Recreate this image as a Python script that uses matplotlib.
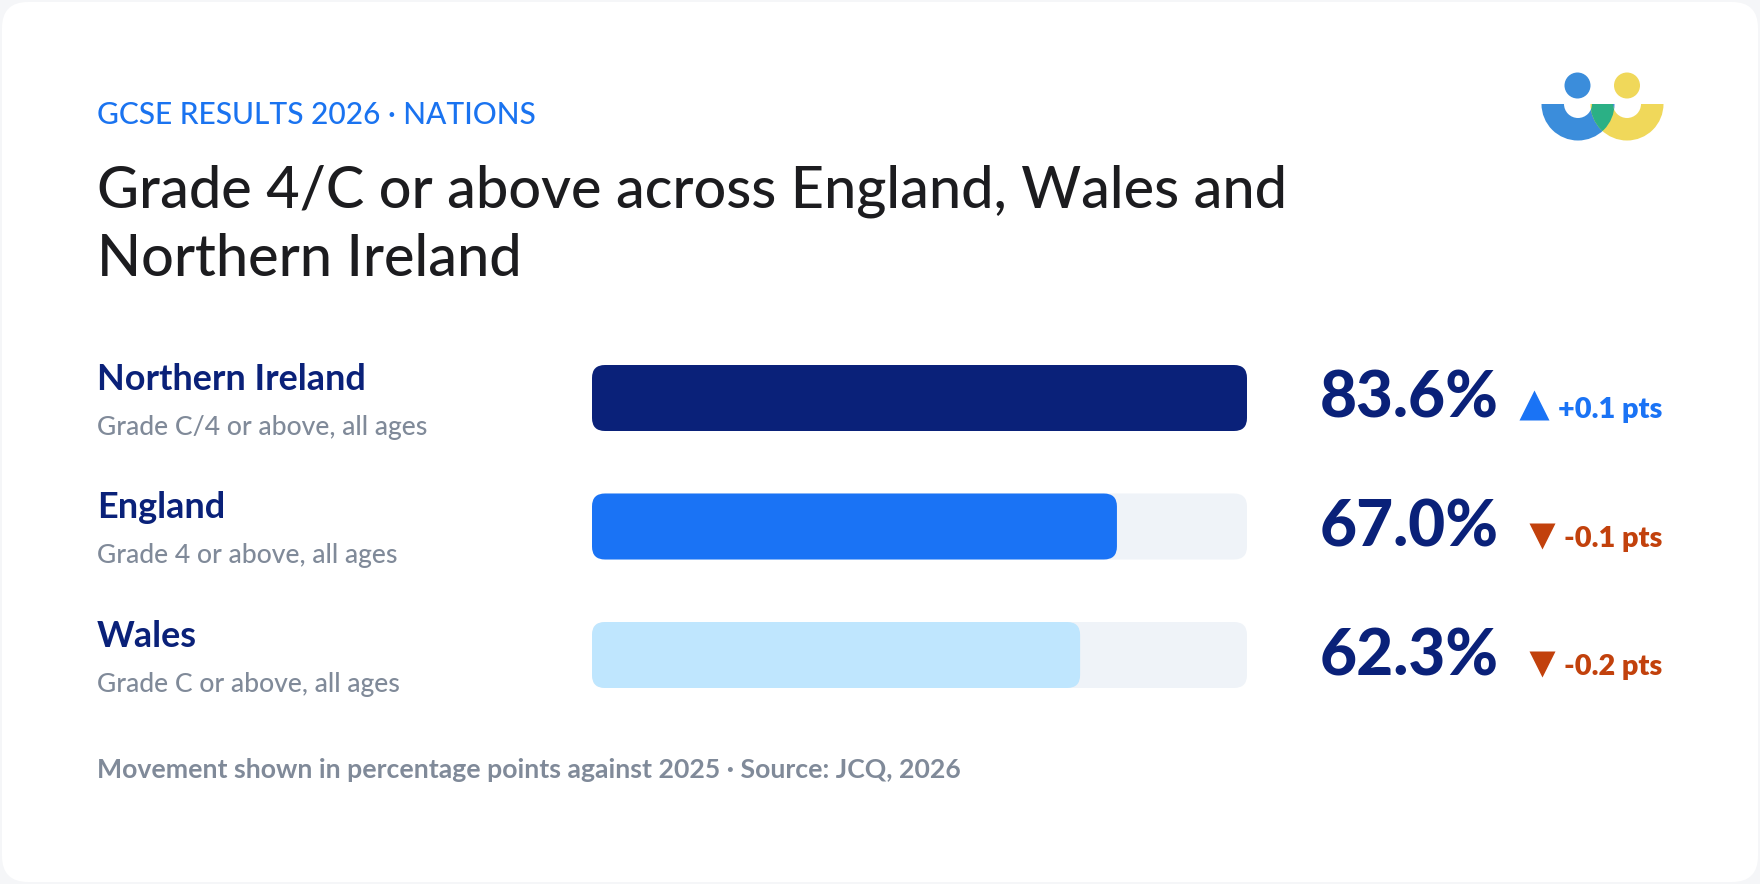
import matplotlib
matplotlib.use("Agg")
import matplotlib.pyplot as plt
from matplotlib.patches import FancyBboxPatch, Wedge, Circle

# ---------------- data ----------------
nations = ["Northern Ireland", "England", "Wales"]
descriptions = ["Grade C/4 or above, all ages", "Grade 4 or above, all ages", "Grade C or above, all ages"]
values = [83.6, 67.0, 62.3]
changes = [0.1, -0.1, -0.2]
kicker = "GCSE RESULTS 2026 · NATIONS"
title_lines = ["Grade 4/C or above across England, Wales and", "Northern Ireland"]
footnote = "Movement shown in percentage points against 2025 · Source: JCQ, 2026"

# ---------------- style ----------------
W, H = 1760, 884
NAVY = "#0a2179"
BAR_COLORS = ["#0a2179", "#1a73f5", "#bfe6fe"]
TRACK = "#eff3f8"
GREY = "#808a99"
UP = "#1a73f5"
DOWN = "#c2410c"
FONT = ["Lato", "DejaVu Sans"]
plt.rcParams["font.family"] = FONT

fig = plt.figure(figsize=(W / 100, H / 100), dpi=100)
fig.patch.set_facecolor("#f5f6f8")

# pixel overlay
ov = fig.add_axes([0, 0, 1, 1])
ov.set_xlim(0, W)
ov.set_ylim(H, 0)
ov.axis("off")
ov.add_patch(FancyBboxPatch((2, 2), W - 4, H - 4, boxstyle="round,pad=0,rounding_size=26",
                            fc="white", ec="none", zorder=0))

# ---------------- bars ----------------
row0, row_step = 398, 128.5
bar_left, bar_right = 592, 1247
ax_top = row0 - row_step / 2
ax_h = row_step * len(nations)
ax = fig.add_axes([bar_left / W, 1 - (ax_top + ax_h) / H, (bar_right - bar_left) / W, ax_h / H])
vmax = max(values)
ax.set_xlim(0, vmax)
ax.set_ylim(len(nations) - 0.5, -0.5)
ax.axis("off")
ax.patch.set_alpha(0)

bar_h_px = 66
bar_h = bar_h_px / row_step
x_per_px = vmax / (bar_right - bar_left)
y_per_px = 1 / row_step
radius = 13 * x_per_px
aspect = y_per_px / x_per_px
for i, (v, c) in enumerate(zip(values, BAR_COLORS)):
    ax.add_patch(FancyBboxPatch((0, i - bar_h / 2), vmax, bar_h,
                                boxstyle=f"round,pad=0,rounding_size={radius}",
                                mutation_aspect=aspect, fc=TRACK, ec="none", zorder=1))
    ax.add_patch(FancyBboxPatch((0, i - bar_h / 2), v, bar_h,
                                boxstyle=f"round,pad=0,rounding_size={radius}",
                                mutation_aspect=aspect, fc=c, ec="none", zorder=2))

# ---------------- texts ----------------
def fit(t, target):
    fig.canvas.draw()
    r = fig.canvas.get_renderer()
    w = t.get_window_extent(r).width
    fs = t.get_fontsize() * target / w
    t.set_fontsize(fs)
    return fs

tk = ov.text(97, 124, kicker, color="#1a73f0", fontsize=18, fontweight="medium", va="baseline")
fit(tk, 440)

tt = [ov.text(97, 208 + k * 68, line, color="#1c1c1f", fontsize=36, fontweight="medium", va="baseline")
      for k, line in enumerate(title_lines)]
fs = fit(tt[0], 1190)
tt[1].set_fontsize(fs)

lab = []
sub = []
vals = []
dl = []
for i in range(len(nations)):
    y = row0 + i * row_step
    lab.append(ov.text(97, y - 8, nations[i], color=NAVY, fontsize=20, fontweight="bold", va="baseline"))
    sub.append(ov.text(97, y + 37, descriptions[i], color=GREY, fontsize=16, fontweight="medium", va="baseline"))
    vals.append(ov.text(1499, y + 20, f"{values[i]:.1f}%", color=NAVY, fontsize=40, fontweight="black",
                        va="baseline", ha="right"))
    ch = changes[i]
    col = UP if ch > 0 else DOWN
    dl.append(ov.text(1662, y + 20, f"{ch:+.1f} pts", color=col, fontsize=16, fontweight="heavy",
                      va="baseline", ha="right"))

fs = fit(lab[0], 268)
for t in lab[1:]:
    t.set_fontsize(fs)
fs = fit(sub[0], 331)
for t in sub[1:]:
    t.set_fontsize(fs)
fs = fit(vals[0], 179)
for t in vals[1:]:
    t.set_fontsize(fs)
fs = fit(dl[0], 105)
for t in dl[1:]:
    t.set_fontsize(fs)

# triangles placed just left of delta text
fig.canvas.draw()
r = fig.canvas.get_renderer()
inv = ov.transData.inverted()
for i, t in enumerate(dl):
    bb = t.get_window_extent(r)
    x0 = inv.transform((bb.x0, bb.y0))[0]
    y = row0 + i * row_step
    if changes[i] > 0:
        ov.plot([x0 - 24], [y + 7], marker="^", markersize=21, color=UP, mec="none")
    else:
        ov.plot([x0 - 22], [y + 9], marker="v", markersize=19, color=DOWN, mec="none")

tf = ov.text(97, 778, footnote, color=GREY, fontsize=16, fontweight="bold", va="baseline")
fit(tf, 863)

# ---------------- logo ----------------
BLUE_L, YEL_L, GRN_L = "#3b8ddb", "#f0d85a", "#2bb085"
ov.add_patch(Circle((1577.5, 85.5), 13, fc=BLUE_L, ec="none"))
ov.add_patch(Circle((1627, 85.5), 13, fc=YEL_L, ec="none"))
bw = Wedge((1578, 104), 36.5, 0, 180, width=22.5, fc=BLUE_L, ec="none")
yw = Wedge((1627, 104), 36.5, 0, 180, width=22.5, fc=YEL_L, ec="none")
ov.add_patch(bw)
ov.add_patch(yw)
gw = Wedge((1627, 104), 36.5, 0, 180, width=22.5, fc=GRN_L, ec="none")
ov.add_patch(gw)
gw.set_clip_path(bw)

fig.savefig("out.png", dpi=100, facecolor=fig.get_facecolor())
